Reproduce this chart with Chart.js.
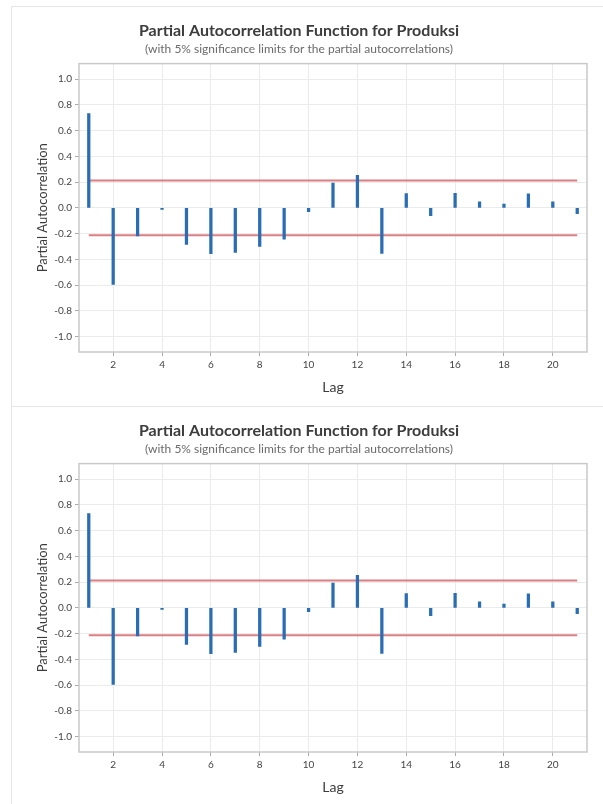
<!DOCTYPE html>
<html>
<head>
<meta charset="utf-8">
<script src="https://cdn.jsdelivr.net/npm/chart.js@4.4.1/dist/chart.umd.min.js"></script>
<style>
  html, body { margin: 0; padding: 0; background: #fff; }
  body { width: 603px; height: 804px; position: relative; overflow: hidden; }
  .panel { position: absolute; left: 11px; width: 592px; height: 400px;
           border-left: 1px solid #e6e6e6; border-top: 1px solid #e6e6e6; box-sizing: border-box; }
  .panel canvas { position: absolute; left: -1px; top: -1px; }
</style>
</head>
<body>
<div class="panel" style="top:6px"><canvas id="pacf1" width="592" height="400"></canvas></div>
<div class="panel" style="top:406px"><canvas id="pacf2" width="592" height="400"></canvas></div>
<script>
// PACF values
const lags = [1, 2, 3, 4, 5, 6, 7, 8, 9, 10, 11, 12, 13, 14, 15, 16, 17, 18, 19, 20, 21];
const pacf = [0.731, -0.595, -0.218, -0.013, -0.285, -0.356, -0.346, -0.300, -0.244, -0.031,
              0.192, 0.252, -0.354, 0.110, -0.062, 0.113, 0.046, 0.028, 0.108, 0.046, -0.046];
const sigLimit = 0.213;
const xTicks = [2, 4, 6, 8, 10, 12, 14, 16, 18, 20];
const yTicks = [-1.0, -0.8, -0.6, -0.4, -0.2, 0.0, 0.2, 0.4, 0.6, 0.8, 1.0];

const FONT = "Lato, 'Open Sans', sans-serif";

const frame = {
  id: 'frame',
  afterDraw(chart) {
    const {ctx, chartArea: a} = chart;
    ctx.save();
    ctx.strokeStyle = '#c9c9c9';
    ctx.lineWidth = 1.5;
    ctx.strokeRect(a.left, a.top, a.right - a.left, a.bottom - a.top);
    ctx.restore();
  }
};

function makeChart(id) {
  const ctx = document.getElementById(id).getContext('2d');
  return new Chart(ctx, {
    type: 'bar',
    data: {
      datasets: [
        {
          type: 'line',
          data: [{x: lags[0], y: sigLimit}, {x: lags[lags.length - 1], y: sigLimit}],
          borderColor: 'rgba(212,105,108,0.85)',
          borderWidth: 2,
          pointRadius: 0,
          order: 2
        },
        {
          type: 'line',
          data: [{x: lags[0], y: -sigLimit}, {x: lags[lags.length - 1], y: -sigLimit}],
          borderColor: 'rgba(212,105,108,0.85)',
          borderWidth: 2,
          pointRadius: 0,
          order: 2
        },
        {
          type: 'bar',
          data: lags.map((l, i) => ({x: l, y: pacf[i]})),
          backgroundColor: '#2a6db5',
          barThickness: 2.6,
          order: 1
        }
      ]
    },
    options: {
      responsive: false,
      animation: false,
      layout: {padding: {left: 0, right: 16, top: 0, bottom: 0}},
      plugins: {
        legend: {display: false},
        tooltip: {enabled: false},
        title: {
          display: true,
          text: 'Partial Autocorrelation Function for Produksi',
          color: '#3c3c3c',
          font: {family: FONT, size: 16, weight: 'bold'},
          padding: {top: 15, bottom: 2}
        },
        subtitle: {
          display: true,
          text: '(with 5% significance limits for the partial autocorrelations)',
          color: '#6a6a6a',
          font: {family: FONT, size: 12},
          padding: {top: 0, bottom: 7}
        }
      },
      scales: {
        x: {
          type: 'linear',
          min: 0.6,
          max: 21.4,
          offset: false,
          afterBuildTicks: s => { s.ticks = xTicks.map(v => ({value: v})); },
          afterFit: s => { s.height = 54; },
          grid: {color: '#ebebeb', tickColor: '#aaa', tickLength: 4, offset: false},
          border: {display: false},
          ticks: {color: '#444', font: {family: FONT, size: 10}, padding: 3, maxRotation: 0},
          title: {display: true, text: 'Lag', color: '#3c3c3c',
                  font: {family: FONT, size: 14}, padding: {top: 0, bottom: 10}}
        },
        y: {
          min: -1.12,
          max: 1.12,
          afterBuildTicks: s => { s.ticks = yTicks.map(v => ({value: v})); },
          afterFit: s => { s.width = 68; },
          grid: {color: '#ebebeb', tickColor: '#aaa', tickLength: 4},
          border: {display: false},
          ticks: {color: '#444', font: {family: FONT, size: 10},
                  padding: 3, callback: v => v.toFixed(1)},
          title: {display: true, text: 'Partial Autocorrelation', color: '#3c3c3c',
                  font: {family: FONT, size: 13}, padding: {top: 24, bottom: 0}}
        }
      }
    },
    plugins: [frame]
  });
}

makeChart('pacf1');
makeChart('pacf2');
</script>
</body>
</html>
